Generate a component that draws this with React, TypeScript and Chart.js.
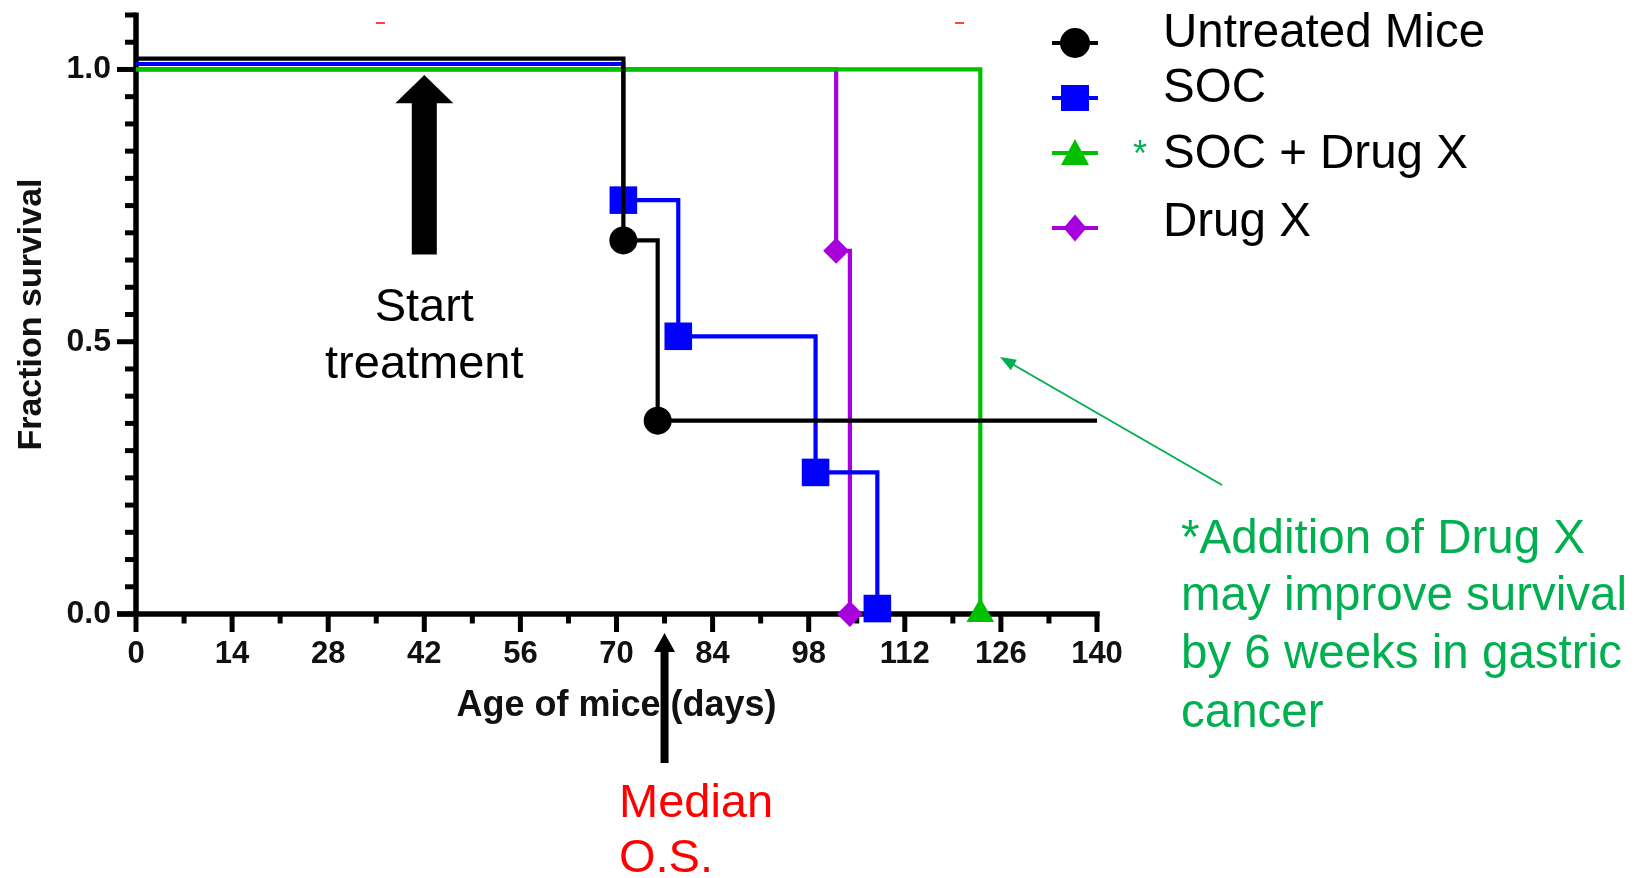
import React, { useEffect, useRef } from 'react';
import { Chart, registerables } from 'chart.js';

Chart.register(...registerables);

const W = 1647;
const H = 878;
const FONT = '"Liberation Sans", Arial, Helvetica, sans-serif';

// ---- Data ----
const seriesNames = ['Untreated Mice', 'SOC', 'SOC + Drug X', 'Drug X'];
const seriesColors = ['#000000', '#0000FF', '#00C000', '#A800DC'];

const untreatedDays = [0, 71, 76, 140];
const untreatedSurvival = [1.02, 0.686, 0.355, 0.355];
const untreatedMarker = [0, 1, 1, 0];

const socDays = [0, 71, 79, 99, 108];
const socSurvival = [1.01, 0.76, 0.51, 0.26, 0.01];
const socMarker = [0, 1, 1, 1, 1];

const comboDays = [0, 123];
const comboSurvival = [1.0, 0.0];
const comboMarker = [0, 1];

const drugXDays = [0, 102, 104];
const drugXSurvival = [1.0, 0.667, 0.0];
const drugXMarker = [0, 1, 1];

// ---- Axes ----
const xMin = 0;
const xMax = 140;
const xTickValues = [0, 14, 28, 42, 56, 70, 84, 98, 112, 126, 140];
const xMinorTicks = [7, 21, 35, 49, 63, 77, 91, 105, 119, 133];
const yMin = 0;
const yMax = 1.1;
const yTickValues = [0, 0.5, 1.0];
const yMinorTicks = [0.05, 0.1, 0.15, 0.2, 0.25, 0.3, 0.35, 0.4, 0.45, 0.55, 0.6, 0.65, 0.7, 0.75, 0.8, 0.85, 0.9, 0.95, 1.05, 1.1];

// ---- Annotations ----
const startTreatmentDay = 42;
const medianDay = 77;

const pts = (days: number[], surv: number[]) => days.map((d, i) => ({ x: d, y: surv[i] }));

const axesPlugin = {
  id: 'gpAxes',
  beforeDatasetsDraw(chart: any) {
    const { ctx } = chart;
    const xs = chart.scales.x;
    const ys = chart.scales.y;
    const x0 = xs.getPixelForValue(xMin);
    const x1 = xs.getPixelForValue(xMax);
    const y0 = ys.getPixelForValue(yMin);
    const yT = ys.getPixelForValue(yMax);
    ctx.save();
    ctx.strokeStyle = '#000';
    ctx.lineCap = 'butt';
    ctx.lineWidth = 5.5;
    const ln = (a: number, b: number, c: number, d: number) => {
      ctx.beginPath();
      ctx.moveTo(a, b);
      ctx.lineTo(c, d);
      ctx.stroke();
    };
    ln(x0, yT - 2.5, x0, y0 + 2.75);
    ln(x0 - 19, y0, x1 + 2.75, y0);
    ctx.lineWidth = 5;
    yTickValues.forEach((v) => {
      const p = ys.getPixelForValue(v);
      ln(x0 - 19, p, x0, p);
    });
    yMinorTicks.forEach((v) => {
      const p = ys.getPixelForValue(v);
      ln(x0 - 11, p, x0, p);
    });
    xTickValues.forEach((v) => {
      const p = xs.getPixelForValue(v);
      ln(p, y0, p, y0 + 18);
    });
    xMinorTicks.forEach((v) => {
      const p = xs.getPixelForValue(v);
      ln(p, y0, p, y0 + 9.5);
    });
    ctx.restore();
  },
};

const drawMarker = (ctx: CanvasRenderingContext2D, style: string, cx: number, cy: number, color: string) => {
  ctx.fillStyle = color;
  ctx.beginPath();
  if (style === 'circle') {
    ctx.arc(cx, cy, 15, 0, Math.PI * 2);
  } else if (style === 'rect') {
    ctx.rect(cx - 14, cy - 13, 28, 26);
  } else if (style === 'triangle') {
    ctx.moveTo(cx, cy - 14);
    ctx.lineTo(cx + 14, cy + 12);
    ctx.lineTo(cx - 14, cy + 12);
    ctx.closePath();
  } else {
    ctx.moveTo(cx, cy - 13.5);
    ctx.lineTo(cx + 11.5, cy);
    ctx.lineTo(cx, cy + 13.5);
    ctx.lineTo(cx - 11.5, cy);
    ctx.closePath();
  }
  ctx.fill();
};

const annotationPlugin = {
  id: 'gpAnnotations',
  afterDraw(chart: any) {
    const { ctx } = chart;
    const xs = chart.scales.x;
    const ys = chart.scales.y;
    ctx.save();

    // tiny red marks at the top
    ctx.fillStyle = '#FF4040';
    ctx.fillRect(376, 22, 9, 2);
    ctx.fillRect(955, 22, 9, 2);

    // Start treatment arrow
    const ax = xs.getPixelForValue(startTreatmentDay);
    const apex = ys.getPixelForValue(0.99);
    const base = ys.getPixelForValue(0.938);
    const tail = ys.getPixelForValue(0.66);
    ctx.fillStyle = '#000';
    ctx.beginPath();
    ctx.moveTo(ax, apex);
    ctx.lineTo(ax + 29, base);
    ctx.lineTo(ax + 12.5, base);
    ctx.lineTo(ax + 12.5, tail);
    ctx.lineTo(ax - 12.5, tail);
    ctx.lineTo(ax - 12.5, base);
    ctx.lineTo(ax - 29, base);
    ctx.closePath();
    ctx.fill();

    ctx.font = `47px ${FONT}`;
    ctx.textAlign = 'center';
    ctx.textBaseline = 'alphabetic';
    ctx.fillText('Start', ax, 321);
    ctx.fillText('treatment', ax, 378);

    // Median O.S. arrow
    const mx = xs.getPixelForValue(medianDay);
    const mApex = 633;
    const mBase = 652;
    const mTail = 763;
    ctx.beginPath();
    ctx.moveTo(mx, mApex);
    ctx.lineTo(mx + 10.5, mBase);
    ctx.lineTo(mx + 4, mBase);
    ctx.lineTo(mx + 4, mTail);
    ctx.lineTo(mx - 4, mTail);
    ctx.lineTo(mx - 4, mBase);
    ctx.lineTo(mx - 10.5, mBase);
    ctx.closePath();
    ctx.fill();

    ctx.fillStyle = '#FF0000';
    ctx.textAlign = 'left';
    ctx.fillText('Median', 619, 817);
    ctx.fillText('O.S.', 619, 872);

    // Green note + arrow
    ctx.fillStyle = '#00B050';
    ctx.font = `47.5px ${FONT}`;
    ctx.fillText('*Addition of Drug X', 1181, 553);
    ctx.fillText('may improve survival', 1181, 610);
    ctx.fillText('by 6 weeks in gastric', 1181, 668);
    ctx.fillText('cancer', 1181, 727);

    const sx = 1222, sy = 485, tx = 1000, ty = 357;
    const ang = Math.atan2(ty - sy, tx - sx);
    ctx.strokeStyle = '#00B050';
    ctx.lineWidth = 2;
    ctx.beginPath();
    ctx.moveTo(sx, sy);
    ctx.lineTo(tx - Math.cos(ang) * 10, ty - Math.sin(ang) * 10);
    ctx.stroke();
    ctx.beginPath();
    ctx.moveTo(tx, ty);
    ctx.lineTo(tx - Math.cos(ang) * 16 + Math.sin(ang) * 6, ty - Math.sin(ang) * 16 - Math.cos(ang) * 6);
    ctx.lineTo(tx - Math.cos(ang) * 16 - Math.sin(ang) * 6, ty - Math.sin(ang) * 16 + Math.cos(ang) * 6);
    ctx.closePath();
    ctx.fill();

    // Legend
    const rowY = [43, 98, 153, 228];
    const baseY = [47, 102, 168, 236];
    const styles = ['circle', 'rect', 'triangle', 'rectRot'];
    chart.data.datasets.forEach((ds: any, i: number) => {
      const c = seriesColors[i];
      ctx.strokeStyle = c;
      ctx.lineWidth = 4;
      ctx.beginPath();
      ctx.moveTo(1052, rowY[i]);
      ctx.lineTo(1098, rowY[i]);
      ctx.stroke();
      drawMarker(ctx, styles[i], 1075, rowY[i], c);
      ctx.fillStyle = '#000';
      ctx.font = `47.5px ${FONT}`;
      ctx.textAlign = 'left';
      ctx.fillText(ds.label, 1163, baseY[i]);
    });
    ctx.fillStyle = '#00B050';
    ctx.font = `36px ${FONT}`;
    ctx.fillText('*', 1133, 166);

    ctx.restore();
  },
};

export default function App() {
  const ref = useRef<HTMLCanvasElement | null>(null);

  useEffect(() => {
    document.body.style.margin = '0';
    if (!ref.current) return;
    const common = {
      borderWidth: 4.2,
      stepped: 'before' as const,
      tension: 0,
      fill: false,
      clip: false as const,
      pointBorderWidth: 0,
      pointHoverRadius: 0,
    };
    const chart = new Chart(ref.current, {
      type: 'line',
      data: {
        datasets: [
          {
            ...common,
            label: seriesNames[0],
            data: pts(untreatedDays, untreatedSurvival),
            borderColor: seriesColors[0],
            backgroundColor: seriesColors[0],
            pointBackgroundColor: seriesColors[0],
            pointStyle: 'circle',
            pointRadius: untreatedMarker.map((m) => (m ? 14 : 0)),
          },
          {
            ...common,
            label: seriesNames[1],
            data: pts(socDays, socSurvival),
            borderColor: seriesColors[1],
            backgroundColor: seriesColors[1],
            pointBackgroundColor: seriesColors[1],
            pointStyle: 'rect',
            pointRadius: socMarker.map((m) => (m ? 19.5 : 0)),
          },
          {
            ...common,
            label: seriesNames[2],
            data: pts(comboDays, comboSurvival),
            borderColor: seriesColors[2],
            backgroundColor: seriesColors[2],
            pointBackgroundColor: seriesColors[2],
            pointStyle: 'triangle',
            pointRadius: comboMarker.map((m) => (m ? 16 : 0)),
          },
          {
            ...common,
            label: seriesNames[3],
            data: pts(drugXDays, drugXSurvival),
            borderColor: seriesColors[3],
            backgroundColor: seriesColors[3],
            pointBackgroundColor: seriesColors[3],
            pointStyle: 'rectRot',
            pointRadius: drugXMarker.map((m) => (m ? 13 : 0)),
          },
        ],
      },
      options: {
        animation: false,
        responsive: false,
        devicePixelRatio: 1,
        events: [],
        layout: { autoPadding: false, padding: { left: 0, right: W - 1097, top: 15, bottom: 0 } },
        plugins: { legend: { display: false }, tooltip: { enabled: false } },
        scales: {
          x: {
            type: 'linear',
            min: xMin,
            max: xMax,
            afterBuildTicks: (s: any) => {
              s.ticks = xTickValues.map((v) => ({ value: v }));
            },
            afterFit: (s: any) => {
              s.height = H - 614;
              s.paddingLeft = 0;
              s.paddingRight = 0;
            },
            grid: { display: false, drawTicks: false },
            border: { display: false },
            ticks: {
              autoSkip: false,
              maxRotation: 0,
              padding: 22,
              color: '#111',
              font: { family: FONT, size: 31, weight: 'bold' },
              callback: (v: any) => String(v),
            },
            title: {
              display: true,
              text: 'Age of mice (days)',
              color: '#111',
              font: { family: FONT, size: 36, weight: 'bold' },
              padding: { top: 0, bottom: 150 },
            },
          },
          y: {
            type: 'linear',
            min: yMin,
            max: yMax,
            afterBuildTicks: (s: any) => {
              s.ticks = yTickValues.map((v) => ({ value: v }));
            },
            afterFit: (s: any) => {
              s.width = 136;
              s.paddingTop = 0;
              s.paddingBottom = 0;
            },
            grid: { display: false, drawTicks: false },
            border: { display: false },
            ticks: {
              autoSkip: false,
              padding: 25,
              color: '#111',
              font: { family: FONT, size: 32, weight: 'bold' },
              callback: (v: any) => Number(v).toFixed(1),
            },
            title: {
              display: true,
              text: 'Fraction survival',
              color: '#111',
              font: { family: FONT, size: 34, weight: 'bold' },
              padding: { top: 11, bottom: 0 },
            },
          },
        },
      } as any,
      plugins: [axesPlugin, annotationPlugin],
    });
    return () => chart.destroy();
  }, []);

  return (
    <div style={{ position: 'absolute', left: 0, top: 0, width: W, height: H, background: '#fff' }}>
      <canvas ref={ref} width={W} height={H} style={{ display: 'block' }} />
    </div>
  );
}
